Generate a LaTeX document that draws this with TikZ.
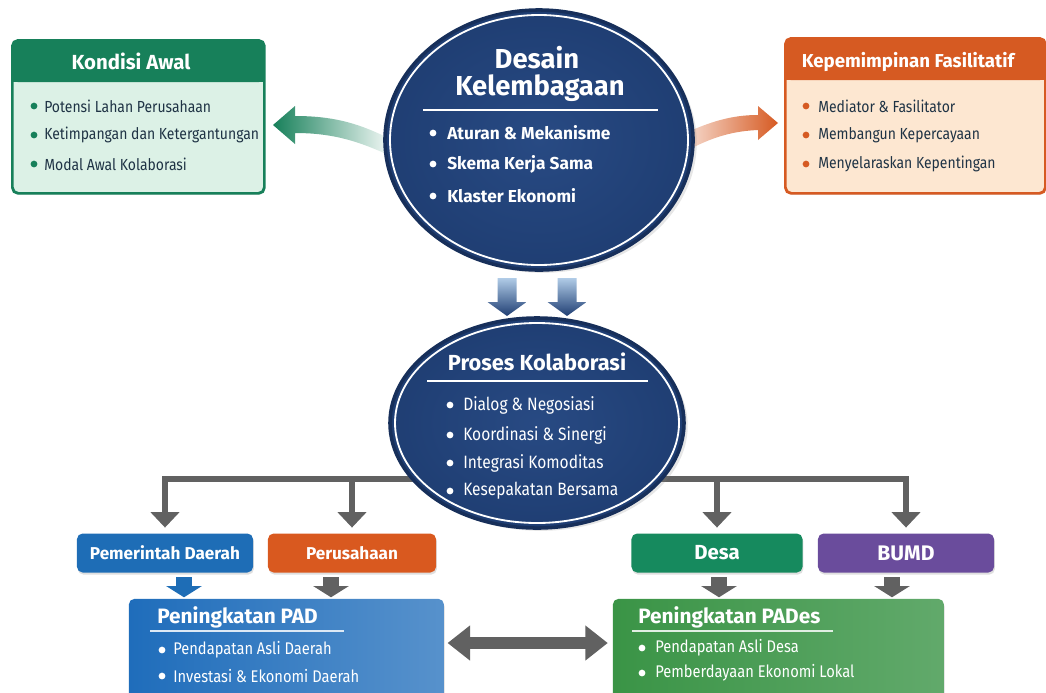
\documentclass[tikz,border=0pt]{standalone}
\usepackage{fontspec}
\setmainfont{Fira Sans}
\newfontfamily\narrowfont{Fira Sans}[FakeStretch=0.87]
\usetikzlibrary{positioning, shapes.geometric, arrows.meta, shadows, backgrounds, calc}

\definecolor{kondisigreen}{HTML}{17805A}
\definecolor{kondisibody}{HTML}{DCF1E6}
\definecolor{kepemorange}{HTML}{D65A22}
\definecolor{kepembody}{HTML}{FDE7D1}
\definecolor{navy}{HTML}{1F3E73}
\definecolor{navydark}{HTML}{172F5A}
\definecolor{navylight}{HTML}{284A83}
\definecolor{pemdablue}{HTML}{1E6DB6}
\definecolor{perusorange}{HTML}{D9591F}
\definecolor{desagreen}{HTML}{168A5E}
\definecolor{bumdpurple}{HTML}{6A4C9C}
\definecolor{padblue}{HTML}{1F6DBB}
\definecolor{padesgreen}{HTML}{3A9446}
\definecolor{conngray}{HTML}{616161}
\definecolor{textdark}{HTML}{1F3345}

\def\pxu{0.7113pt}

\begin{document}
\begin{tikzpicture}[x=0.025cm, y=-0.025cm,
    itemtxt/.style={anchor=west, inner sep=0pt},
    boxtitle/.style={inner sep=0pt, text=white, font=\bfseries\fontsize{13.3}{15}\selectfont},
    panel/.style={anchor=north west, draw, line width=1.2pt, rounded corners=4pt,
      drop shadow={opacity=0.2, shadow xshift=0.6pt, shadow yshift=-1.5pt}},
    tag/.style={rounded corners=4pt, minimum width=176*\pxu, minimum height=39*\pxu,
      text=white, font=\bfseries\fontsize{12.2}{14}\selectfont,
      drop shadow={opacity=0.25, shadow xshift=0.6pt, shadow yshift=-1.5pt}},
    connector/.style={draw=conngray, line width=3.6pt, -{Triangle[width=20pt,length=11pt]}, shorten >=4pt},
    stub/.style={line width=11pt, -{Triangle[width=25pt,length=8pt]}, shorten <=3pt, shorten >=0.5pt}]

  \useasboundingbox (0,0) rectangle (1046,692);
  \clip (0,0) rectangle (1046,692);

  % Kondisi Awal
  \node[panel, draw=kondisigreen, fill=kondisibody, minimum width=251*\pxu, minimum height=152*\pxu] (kondisi) at (12,40) {};
  \fill[kondisigreen, rounded corners=4pt] (kondisi.north west) rectangle ($(kondisi.north east)+(0,42)$);
  \fill[kondisigreen] ($(kondisi.north west)+(0,30)$) rectangle ($(kondisi.north east)+(0,42)$);
  \draw[kondisigreen, line width=1.2pt, rounded corners=4pt] (kondisi.north west) rectangle (kondisi.south east);
  \node[boxtitle, font=\bfseries\fontsize{14.5}{16}\selectfont] (kondisi-title) at (131,61) {Kondisi Awal};
  \foreach \txt [count=\i] in {Potensi Lahan Perusahaan, Ketimpangan dan Ketergantungan, Modal Awal Kolaborasi} {
    \fill[kondisigreen] (34,77+29*\i) circle (2.4pt);
    \node[itemtxt, text=textdark, font=\narrowfont\fontsize{11.4}{13}\selectfont] (kondisi-\i) at (44,77+29*\i) {\txt};
  }

  % Kepemimpinan Fasilitatif
  \node[panel, draw=kepemorange, fill=kepembody, minimum width=259*\pxu, minimum height=154*\pxu] (kepem) at (785,38) {};
  \fill[kepemorange, rounded corners=4pt] (kepem.north west) rectangle ($(kepem.north east)+(0,42)$);
  \fill[kepemorange] ($(kepem.north west)+(0,30)$) rectangle ($(kepem.north east)+(0,42)$);
  \draw[kepemorange, line width=1.2pt, rounded corners=4pt] (kepem.north west) rectangle (kepem.south east);
  \node[boxtitle] (kepem-title) at (908,62) {Kepemimpinan Fasilitatif};
  \foreach \txt [count=\i] in {Mediator \& Fasilitator, Membangun Kepercayaan, Menyelaraskan Kepentingan} {
    \fill[kepemorange] (806,77+29*\i) circle (2.4pt);
    \node[itemtxt, text=textdark, font=\narrowfont\fontsize{11.4}{13}\selectfont] (kepem-\i) at (818,77+29*\i) {\txt};
  }

  % curved arrows
  \shade[left color=kondisigreen, right color=kondisigreen!10] (273,125) -- (295,106) -- (295,116)
    .. controls (330,116) and (355,122) .. (384,136) -- (384,153)
    .. controls (355,140) and (330,133) .. (295,133) -- (295,144) -- cycle;
  \shade[left color=kepemorange!25, right color=kepemorange] (690,131)
    .. controls (715,120) and (735,115) .. (758,115) -- (758,106) -- (778,123) -- (758,140) -- (758,130)
    .. controls (735,131) and (715,136) .. (690,149) -- cycle;

  % Desain Kelembagaan
  \node[ellipse, minimum width=308*\pxu, minimum height=260*\pxu, inner color=navylight, outer color=navy,
    draw=navydark, line width=2.5pt, drop shadow={opacity=0.2, shadow yshift=-2pt}] (desain) at (539,140) {};
  \draw[white, line width=1.3pt] (desain.center) ellipse [x radius=149, y radius=125];
  \node[text=white, font=\bfseries\fontsize{19.5}{22}\selectfont, inner sep=0pt] (desain-t1) at (537,58) {Desain};
  \node[text=white, font=\bfseries\fontsize{19.5}{22}\selectfont, inner sep=0pt] (desain-t2) at (540,88) {Kelembagaan};
  \draw[white, line width=1.2pt] (423,110) -- (658,110);
  \foreach \txt/\yy [count=\i] in {Aturan \& Mekanisme/133, Skema Kerja Sama/164, Klaster Ekonomi/196} {
    \fill[white] (433,\yy) circle (2.4pt);
    \node[itemtxt, text=white, font=\bfseries\fontsize{12.3}{14}\selectfont] (desain-\i) at (447,\yy) {\txt};
  }

  % arrows down
  \foreach \cx in {507,567} {
    \shade[top color=padblue!35, bottom color=navy] (\cx-9.5,278) -- (\cx+9.5,278) -- (\cx+9.5,302)
      -- (\cx+19.5,302) -- (\cx,316) -- (\cx-19.5,302) -- (\cx-9.5,302) -- cycle;
  }

  % Proses Kolaborasi
  \node[ellipse, minimum width=294*\pxu, minimum height=210*\pxu, inner color=navylight, outer color=navy,
    draw=navydark, line width=2.5pt, drop shadow={opacity=0.2, shadow yshift=-2pt}] (proses) at (537,423) {};
  \draw[white, line width=1.3pt] (proses.center) ellipse [x radius=142, y radius=100];
  \node[text=white, font=\bfseries\fontsize{15.5}{18}\selectfont, inner sep=0pt] (proses-title) at (537,362) {Proses Kolaborasi};
  \draw[white, line width=1.2pt] (427,381) -- (648,381);
  \foreach \txt/\yy [count=\i] in {Dialog \& Negosiasi/405, Koordinasi \& Sinergi/435, Integrasi Komoditas/463, Kesepakatan Bersama/491} {
    \fill[white] (450,\yy) circle (2.4pt);
    \node[itemtxt, text=white, font=\narrowfont\fontsize{12.7}{14}\selectfont] (proses-\i) at (463,\yy) {\txt};
  }

  % actors
  \node[tag, fill=pemdablue] (pemda) at (165,553) {Pemerintah Daerah};
  \node[tag, fill=perusorange, minimum width=168*\pxu] (perus) at (352,553) {Perusahaan};
  \node[tag, fill=desagreen, minimum width=171*\pxu, font=\bfseries\fontsize{14.5}{16}\selectfont] (desa) at (717,553) {Desa};
  \node[tag, fill=bumdpurple, font=\bfseries\fontsize{15}{17}\selectfont] (bumd) at (906,553) {BUMD};

  % outcomes
  \node[panel, draw=none, left color=padblue, right color=padblue!75!white, minimum width=315*\pxu, minimum height=130*\pxu] (pad) at (128,598) {};
  \node[itemtxt, text=white, font=\bfseries\fontsize{14.8}{17}\selectfont] (pad-title) at (157,617) {Peningkatan PAD};
  \draw[white!85!padblue, line width=1.2pt] (150,631) -- (344,631);
  \foreach \txt/\yy [count=\i] in {Pendapatan Asli Daerah/650, Investasi \& Ekonomi Daerah/676} {
    \fill[white] (162,\yy) circle (2.4pt);
    \node[itemtxt, text=white, font=\narrowfont\fontsize{12}{14}\selectfont] (pad-\i) at (173,\yy) {\txt};
  }
  \node[panel, draw=none, left color=padesgreen, right color=padesgreen!80!white, minimum width=331*\pxu, minimum height=130*\pxu] (pades) at (612,598) {};
  \node[itemtxt, text=white, font=\bfseries\fontsize{14.8}{17}\selectfont] (pades-title) at (638,617) {Peningkatan PADes};
  \draw[white!85!padesgreen, line width=1.2pt] (632,631) -- (833,631);
  \foreach \txt/\yy [count=\i] in {Pendapatan Asli Desa/648, Pemberdayaan Ekonomi Lokal/673} {
    \fill[white] (642,\yy) circle (2.4pt);
    \node[itemtxt, text=white, font=\narrowfont\fontsize{12}{14}\selectfont] (pades-\i) at (655,\yy) {\txt};
  }

  % connectors
  \begin{scope}[on background layer]
    \coordinate (fork) at ($(proses.center)+(0,56)$);
    \draw[connector] (fork) -| (pemda.north);
    \draw[connector] (fork -| perus.north) -- (perus.north);
    \draw[connector] (fork) -| (bumd.north);
    \draw[connector] (fork -| desa.north) -- (desa.north);
  \end{scope}

  \coordinate (pemda-out) at ($(pemda.south)+(19,0)$);
  \coordinate (perus-out) at ($(perus.south)+(-21,0)$);
  \coordinate (desa-out) at ($(desa.south)+(2,0)$);
  \coordinate (bumd-out) at ($(bumd.south)+(-14,0)$);
  \draw[stub, pemdablue] (pemda-out) -- (pemda-out |- pad.north);
  \draw[stub, conngray] (perus-out) -- (perus-out |- pad.north);
  \draw[stub, conngray] (desa-out) -- (desa-out |- pades.north);
  \draw[stub, conngray] (bumd-out) -- (bumd-out |- pades.north);

  \coordinate (bridge) at (527,643);
  \draw[conngray, line width=9pt, {Triangle[width=24pt,length=16pt]}-{Triangle[width=24pt,length=16pt]},
    shorten <=2pt, shorten >=3pt] (pad.east |- bridge) -- (pades.west |- bridge);
\end{tikzpicture}
\end{document}
